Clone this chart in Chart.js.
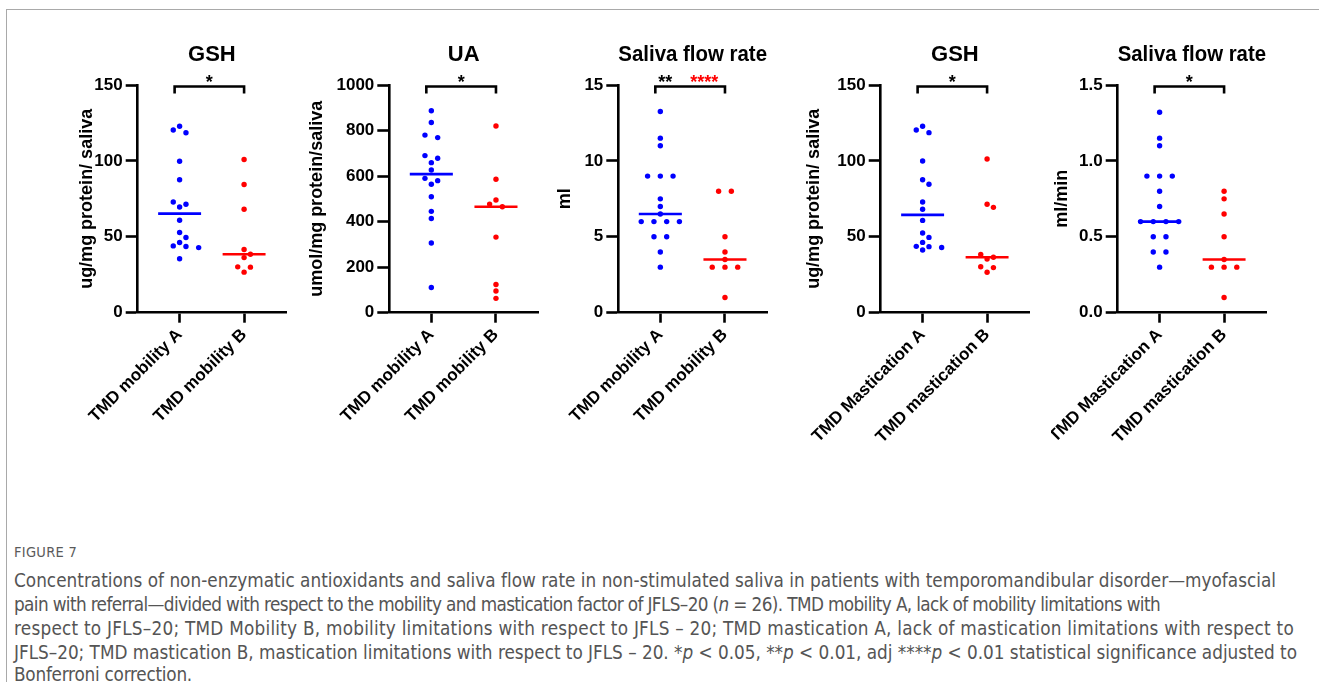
<!DOCTYPE html>
<html>
<head>
<meta charset="utf-8">
<script src="https://cdn.jsdelivr.net/npm/chart.js@4.4.1/dist/chart.umd.min.js"></script>
<style>
html,body{margin:0;padding:0;background:#fff;width:1319px;height:682px;overflow:hidden;position:relative;}
.frame{position:absolute;left:6px;top:9px;width:1400px;height:700px;border-top:1px solid #a9a9a9;border-left:1px solid #a9a9a9;}
canvas.cv{position:absolute;top:0;}
#fig{position:absolute;left:14px;font-family:"Liberation Sans Narrow","DejaVu Sans Condensed","Liberation Sans",sans-serif;font-size:14.5px;color:#5a5a5a;letter-spacing:0.3px;white-space:nowrap;line-height:1;}
.cap{position:absolute;left:14px;white-space:nowrap;color:#555555;font-family:"Liberation Sans Narrow","DejaVu Sans Condensed","Liberation Sans",sans-serif;line-height:1;}
.bl{display:inline-block;width:0;height:0;vertical-align:baseline;}
</style>
</head>
<body>
<div class="frame"></div>
<canvas class="cv" id="c0"></canvas>
<canvas class="cv" id="c1"></canvas>
<canvas class="cv" id="c2"></canvas>
<canvas class="cv" id="c3"></canvas>
<canvas class="cv" id="c4"></canvas>
<div id="fig">FIGURE 7</div>
<div class="cap" id="l1">Concentrations of non-enzymatic antioxidants and saliva flow rate in non-stimulated saliva in patients with temporomandibular disorder—myofascial</div>
<div class="cap" id="l2">pain with referral—divided with respect to the mobility and mastication factor of JFLS–20 (<i>n</i> = 26). TMD mobility A, lack of mobility limitations with</div>
<div class="cap" id="l3">respect to JFLS–20; TMD Mobility B, mobility limitations with respect to JFLS – 20; TMD mastication A, lack of mastication limitations with respect to</div>
<div class="cap" id="l4">JFLS–20; TMD mastication B, mastication limitations with respect to JFLS – 20. *<i>p</i> &lt; 0.05, **<i>p</i> &lt; 0.01, adj ****<i>p</i> &lt; 0.01 statistical significance adjusted to</div>
<div class="cap" id="l5">Bonferroni correction.</div>
<script>
// ---------- DATA ----------
const mobilityCats = ['TMD mobility A', 'TMD mobility B'];
const masticationCats = ['TMD Mastication A', 'TMD mastication B'];

const gshMobilityA = [122.8, 120.4, 118.5, 99.8, 87.6, 72.9, 71.4, 69.6, 60.9, 52.8, 49.5, 46.2, 44.0, 43.6, 42.9, 35.5];
const gshMobilityB = [100.9, 84.5, 68.1, 41.6, 38.5, 36.3, 30.2, 30.0, 26.7];

const uaMobilityA = [887, 835, 780, 769, 690, 678, 659, 627, 590, 580, 564, 509, 445, 414, 306, 111];
const uaMobilityB = [820, 586, 495, 477, 465, 332, 124, 95, 63];

const flowMobilityA = [13.25, 11.5, 11, 9, 9, 9, 7.5, 7, 6.5, 6, 6, 6, 6, 5, 5, 4, 3];
const flowMobilityB = [8, 8, 5, 4, 3.5, 3, 3, 3, 1];

const gshMasticationA = [122.8, 120.4, 118.6, 99.9, 87.6, 84.6, 72.9, 68.1, 60.8, 52.5, 49.6, 46.3, 43.7, 43.5, 43.0, 41.3];
const gshMasticationB = [101.3, 71.4, 69.4, 38.4, 36.5, 35.4, 30.3, 29.7, 26.6];

const flowRateMasticationA = [1.32, 1.15, 1.1, 0.9, 0.9, 0.9, 0.8, 0.7, 0.6, 0.6, 0.6, 0.6, 0.5, 0.5, 0.4, 0.4, 0.3];
const flowRateMasticationB = [0.8, 0.75, 0.65, 0.5, 0.35, 0.3, 0.3, 0.3, 0.1];

const yTicks1 = [0, 50, 100, 150];
const yTicks2 = [0, 200, 400, 600, 800, 1000];
const yTicks3 = [0, 5, 10, 15];
const yTicks5 = [0, 0.5, 1.0, 1.5];

// ---------- LAYOUT ----------
const X_MIN = -0.65, X_MAX = 1.65;
const UNIT_PX = 64.5;
const PLOT_TOP = 85, PLOT_BOTTOM = 312.7, CANVAS_H = 500;
const BLUE = '#0000ff', RED = '#ff0000';
const FONT = '"Liberation Sans", Arial, Helvetica, sans-serif';

const panels = [
  {title: 'GSH', yLabel: 'ug/mg protein/ saliva', cats: mobilityCats, a: gshMobilityA, b: gshMobilityB, ticks: yTicks1, dec: 0,
   stars: [{t: '*', c: '#000', dx: 0}], axisX: 137.7, labelX: 86.7},
  {title: 'UA', yLabel: 'umol/mg protein/saliva', cats: mobilityCats, a: uaMobilityA, b: uaMobilityB, ticks: yTicks2, dec: 0,
   stars: [{t: '*', c: '#000', dx: 0}], axisX: 389.3, labelX: 316.7},
  {title: 'Saliva flow rate', yLabel: 'ml', cats: mobilityCats, a: flowMobilityA, b: flowMobilityB, ticks: yTicks3, dec: 0,
   stars: [{t: '**', c: '#000', dx: -25}, {t: '****', c: '#ff0000', dx: 14}], axisX: 618.3, labelX: 565},
  {title: 'GSH', yLabel: 'ug/mg protein/ saliva', cats: masticationCats, a: gshMasticationA, b: gshMasticationB, ticks: yTicks1, dec: 0,
   stars: [{t: '*', c: '#000', dx: 0}], axisX: 880.7, labelX: 813.3},
  {title: 'Saliva flow rate', yLabel: 'ml/min', cats: masticationCats, a: flowRateMasticationA, b: flowRateMasticationB, ticks: yTicks5, dec: 1,
   stars: [{t: '*', c: '#000', dx: 0}], axisX: 1117.7, labelX: 1061.7}
];

// beeswarm-style horizontal spread (layout only)
function swarm(values, center, ymin, ymax) {
  const pxPerVal = (PLOT_BOTTOM - PLOT_TOP) / (ymax - ymin);
  const sorted = values.map(v => ({v})).sort((p, q) => q.v - p.v);
  const rows = [];
  for (const p of sorted) {
    const last = rows[rows.length - 1];
    if (last && (last[0].v - p.v) * pxPerVal <= 3) last.push(p); else rows.push([p]);
  }
  const placed = [];
  const SP = 12.7, H = 6.35;
  const shifts = [0, H, -H, 2 * H, -2 * H, 3 * H, -3 * H, 4 * H, -4 * H];
  for (const row of rows) {
    const n = row.length;
    const base = row.map((p, k) => (k - (n - 1) / 2) * SP);
    let chosen = 0;
    for (const s of shifts) {
      const ok = row.every((p, k) => placed.every(q =>
        !(Math.abs(base[k] + s - q.dx) < 6 && Math.abs((p.v - q.v) * pxPerVal) < 5.5)));
      if (ok) { chosen = s; break; }
    }
    row.forEach((p, k) => placed.push({v: p.v, dx: base[k] + chosen}));
  }
  return placed.map(p => ({x: center + p.dx / UNIT_PX, y: p.v}));
}
function median(arr) {
  const s = [...arr].sort((x, y) => x - y);
  const m = s.length >> 1;
  return s.length % 2 ? s[m] : (s[m - 1] + s[m]) / 2;
}

const bracketPlugin = {
  id: 'bracket',
  afterDatasetsDraw(chart, args, opts) {
    const {ctx, scales: {x, y}} = chart;
    const x1 = x.getPixelForValue(0) - 5;
    const x2 = x.getPixelForValue(1);
    const yTop = y.getPixelForValue(y.max) + 1.5;
    ctx.save();
    ctx.strokeStyle = '#000';
    ctx.lineWidth = 2.6;
    ctx.lineJoin = 'miter';
    ctx.beginPath();
    ctx.moveTo(x1, yTop + 7);
    ctx.lineTo(x1, yTop);
    ctx.lineTo(x2, yTop);
    ctx.lineTo(x2, yTop + 7);
    ctx.stroke();
    ctx.font = 'bold 18px ' + FONT;
    ctx.textAlign = 'center';
    ctx.textBaseline = 'alphabetic';
    const cx = (x1 + x2) / 2;
    for (const s of opts.stars) {
      ctx.fillStyle = s.c;
      ctx.fillText(s.t, cx + s.dx, yTop + 1);
    }
    ctx.restore();
  }
};

Chart.defaults.font.family = FONT;
Chart.defaults.color = '#000';

panels.forEach((p, i) => {
  const cv = document.getElementById('c' + i);
  const left = Math.round(p.labelX - 10.8);
  const yW = p.axisX - left;
  const W = Math.round(p.axisX + (X_MAX - X_MIN) * UNIT_PX + 5 - left);
  cv.width = W; cv.height = CANVAS_H;
  cv.style.left = left + 'px';
  const ymin = p.ticks[0], ymax = p.ticks[p.ticks.length - 1];
  const mA = median(p.a), mB = median(p.b);
  new Chart(cv, {
    type: 'scatter',
    data: {
      datasets: [
        {type: 'line', data: [{x: -0.333, y: mA}, {x: 0.333, y: mA}], borderColor: BLUE, borderWidth: 2.6, pointRadius: 0, order: 0},
        {type: 'line', data: [{x: 0.667, y: mB}, {x: 1.333, y: mB}], borderColor: RED, borderWidth: 2.6, pointRadius: 0, order: 0},
        {data: swarm(p.a, 0, ymin, ymax), backgroundColor: BLUE, borderWidth: 0, pointRadius: 2.7, order: 1},
        {data: swarm(p.b, 1, ymin, ymax), backgroundColor: RED, borderWidth: 0, pointRadius: 2.7, order: 1}
      ]
    },
    options: {
      responsive: false,
      animation: false,
      devicePixelRatio: 1,
      layout: {padding: {left: 0, right: 5, top: 0, bottom: 0}},
      plugins: {
        legend: {display: false},
        tooltip: {enabled: false},
        title: {display: true, text: p.title, fullSize: false, color: '#000',
          font: {size: 22, weight: 'bold', lineHeight: 1.2}, padding: {top: 41.8, bottom: 16.8}},
        bracket: {stars: p.stars}
      },
      scales: {
        x: {
          type: 'linear', min: X_MIN, max: X_MAX,
          afterBuildTicks: s => { s.ticks = [{value: 0}, {value: 1}]; },
          afterFit: s => { s.height = CANVAS_H - PLOT_BOTTOM; s.paddingLeft = 0; s.paddingRight = 0; },
          ticks: {autoSkip: false, minRotation: 45, maxRotation: 45, padding: 2, color: '#000',
            font: {size: 17, weight: 'bold'}, callback: (v, idx) => p.cats[idx]},
          grid: {display: true, drawOnChartArea: false, drawTicks: true, tickLength: 10, tickWidth: 2.6, tickColor: '#000'},
          border: {display: true, color: '#000', width: 2.6}
        },
        y: {
          type: 'linear', min: ymin, max: ymax,
          afterBuildTicks: s => { s.ticks = p.ticks.map(v => ({value: v})); },
          afterFit: s => { s.width = yW; },
          ticks: {padding: 3, color: '#000', font: {size: 17, weight: 'bold'},
            callback: v => Number(v).toFixed(p.dec)},
          grid: {display: true, drawOnChartArea: false, drawTicks: true, tickLength: 12, tickWidth: 2.6, tickColor: '#000'},
          border: {display: true, color: '#000', width: 2.6},
          title: {display: true, text: p.yLabel, color: '#000', font: {size: 18, weight: 'bold', lineHeight: 1.2}, padding: {top: 0, bottom: 0}}
        }
      }
    },
    plugins: [bracketPlugin]
  });
});

// ---------- caption layout (positions by baseline) ----------
const FIG_BASELINE = 557;
const capLines = [
  {id: 'l1', right: 1276, base: 587},
  {id: 'l2', right: 1160, base: 611},
  {id: 'l3', right: 1294, base: 635},
  {id: 'l4', right: 1297, base: 659},
  {id: 'l5', right: 192, base: 681}
];
function placeByBaseline(el, base) {
  const mark = document.createElement('span');
  mark.className = 'bl';
  el.appendChild(mark);
  el.style.top = '0px';
  const off = mark.getBoundingClientRect().top - el.getBoundingClientRect().top;
  el.style.top = (base - off) + 'px';
}
(function fitCaption() {
  placeByBaseline(document.getElementById('fig'), FIG_BASELINE);
  const l1 = document.getElementById('l1');
  l1.style.fontSize = '100px';
  const w100 = l1.getBoundingClientRect().width;
  const fs = 100 * (capLines[0].right - 14) / w100;
  capLines.forEach(c => {
    const el = document.getElementById(c.id);
    el.style.fontSize = fs + 'px';
    el.style.letterSpacing = '0px';
    const w = el.getBoundingClientRect().width;
    const n = el.textContent.length;
    const ls = ((c.right - 14) - w) / n;
    el.style.letterSpacing = Math.max(-1, Math.min(1, ls)) + 'px';
    placeByBaseline(el, c.base);
  });
})();
</script>
</body>
</html>
